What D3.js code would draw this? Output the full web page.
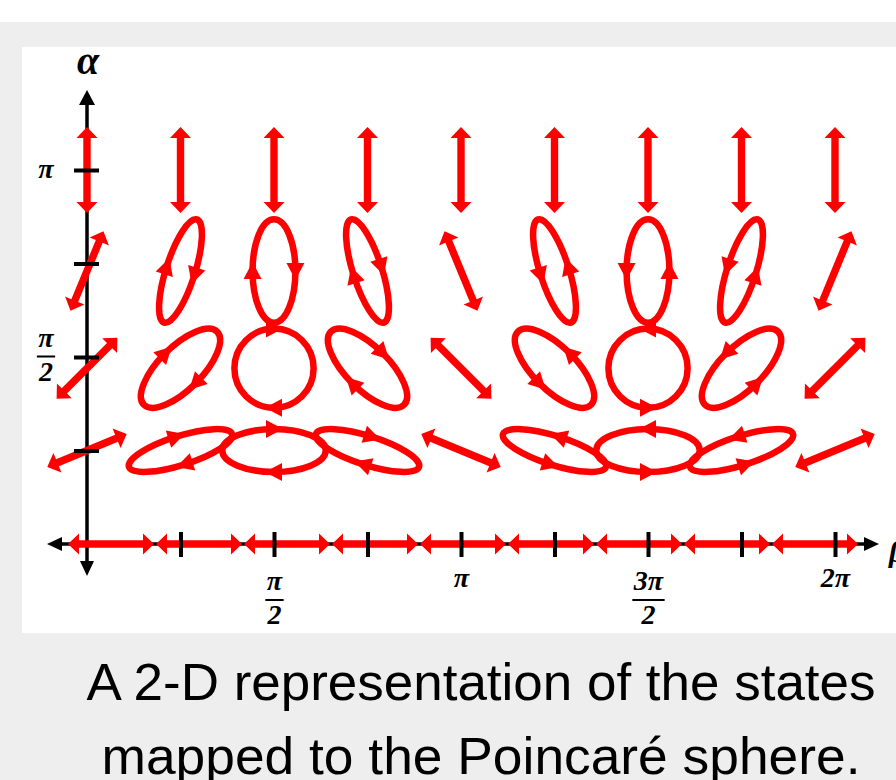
<!DOCTYPE html>
<html lang="en">
<head>
    <meta charset="UTF-8">
    <title>Poincaré states</title>
    <script src="https://cdn.jsdelivr.net/npm/d3@7"></script>
    <style>
        body { margin: 0; background: #fff; }
        svg { display: block; }
        .math { font-family: "Liberation Serif", "DejaVu Serif", serif; font-weight: bold; font-style: italic; }
        .caption { font-family: "Liberation Sans", Arial, sans-serif; }
    </style>
</head>
<body>
<div id="chart-space"></div>
<script>
    // beta across, alpha up, both in units of pi
    var betaSteps = [0, 0.25, 0.5, 0.75, 1, 1.25, 1.5, 1.75, 2];
    var alphaStates = [0, 0.25, 0.5, 0.75, 1];
    // where each alpha row is drawn (the rows sit a little off the ticks)
    var alphaRowAt = [0, 0.25, 0.47, 0.73, 1];

    var xTickValues = [0.25, 0.5, 0.75, 1, 1.25, 1.5, 1.75, 2];
    var xTickLabels = ["", "π/2", "", "π", "", "3π/2", "", "2π"];
    var yTickValues = [0.25, 0.5, 0.75, 1];
    var yTickLabels = ["", "π/2", "", "π"];

    var captionLines = ["A 2-D representation of the states", "mapped to the Poincaré sphere."];

    var width = 896, height = 780;
    var red = "#ff0000";
    var R = 56;       // ellipse size
    var halfLen = 43; // half length of linear arrows

    var svg = d3.select("#chart-space").append("svg")
        .attr("width", width).attr("height", height);

    // backdrop
    svg.append("rect").attr("x", 0).attr("y", 22).attr("width", width).attr("height", height - 22).attr("fill", "#eeeeee");
    svg.append("rect").attr("x", 22).attr("y", 47).attr("width", width - 22).attr("height", 586).attr("fill", "#fff");

    var x = d3.scaleLinear().domain([0, 2]).range([87, 835]);
    var y = d3.scaleLinear().domain([0, 1]).range([544, 170]);
    // the horizontal arrows along the beta axis are laid end to end
    var xRowZero = d3.scalePoint().domain(betaSteps).range([111, 815]);

    // axis lines with arrow tips
    var ax = x(0), ay = y(0);
    svg.append("line").attr("x1", ax).attr("x2", ax).attr("y1", 100).attr("y2", 566)
        .attr("stroke", "#000").attr("stroke-width", 3.5);
    svg.append("line").attr("x1", 56).attr("x2", 870).attr("y1", ay).attr("y2", ay)
        .attr("stroke", "#000").attr("stroke-width", 3.5);
    var tips = [
        [[ax, 90], [ax - 8, 105], [ax + 8, 105]],
        [[ax, 576], [ax - 7, 561], [ax + 7, 561]],
        [[47, ay], [62, ay - 7], [62, ay + 7]],
        [[879, ay], [864, ay - 7], [864, ay + 7]]
    ];
    svg.selectAll(".tip").data(tips).join("path")
        .attr("class", "tip")
        .attr("d", function(d) { return "M" + d.join("L") + "Z"; })
        .attr("fill", "#000");

    function clean(v) { return Math.abs(v) < 1e-9 ? 0 : v; }

    // polarisation ellipse of the state (alpha, beta)
    function stateShape(aPi, bPi) {
        var a = aPi * Math.PI, b = bPi * Math.PI;
        var s1 = clean(Math.cos(a));
        var s2 = clean(Math.sin(a) * Math.cos(b));
        var s3 = clean(Math.sin(a) * Math.sin(b));
        return { psi: 0.5 * Math.atan2(s2, s1), chi: 0.5 * Math.asin(s3), s3: s3 };
    }

    function doubleArrow(L) {
        var hl = 11, hw = 10.5, sw = 3.7;
        var p = [[-L, 0], [-L + hl, -hw], [-L + hl, -sw], [L - hl, -sw], [L - hl, -hw], [L, 0],
                 [L - hl, hw], [L - hl, sw], [-L + hl, sw], [-L + hl, hw]];
        return "M" + p.join("L") + "Z";
    }

    function headAt(y0, dir) {
        var p = [[dir * 9, y0], [-dir * 8, y0 - 9], [-dir * 8, y0 + 9]];
        return "M" + p.join("L") + "Z";
    }

    var marks = [];
    alphaStates.forEach(function(a, i) {
        betaSteps.forEach(function(b) {
            marks.push({ alpha: a, beta: b, row: alphaRowAt[i] });
        });
    });

    var markG = svg.append("g");
    marks.forEach(function(m) {
        var s = stateShape(m.alpha, m.beta);
        var cx = m.alpha === 0 ? xRowZero(m.beta) : x(m.beta);
        var cy = y(m.row);
        var g = markG.append("g")
            .attr("transform", "translate(" + cx + "," + cy + ") rotate(" + (-s.psi * 180 / Math.PI) + ")");
        if (s.s3 === 0) {
            g.append("path").attr("d", doubleArrow(halfLen)).attr("fill", red);
        } else {
            var rx = R * Math.cos(s.chi), ry = R * Math.abs(Math.sin(s.chi));
            var dir = s.s3 > 0 ? 1 : -1;
            g.append("ellipse").attr("rx", rx).attr("ry", ry)
                .attr("fill", "none").attr("stroke", red).attr("stroke-width", 6.5);
            g.append("path").attr("d", headAt(-ry, dir)).attr("fill", red);
            g.append("path").attr("d", headAt(ry, -dir)).attr("fill", red);
        }
    });

    // math labels, "a/b" is set as a stacked fraction
    function mathLabel(g, label, cx, baseY, barY) {
        if (!label) return;
        var parts = label.split("/");
        if (parts.length === 1) {
            g.append("text").attr("class", "math").attr("x", cx).attr("y", baseY)
                .attr("text-anchor", "middle").attr("font-size", 28).attr("fill", "#000").text(label);
            return;
        }
        var num = g.append("text").attr("class", "math").attr("x", cx).attr("y", barY - 10)
            .attr("text-anchor", "middle").attr("font-size", 28).attr("fill", "#000").text(parts[0]);
        var w = num.node().getComputedTextLength() + 3;
        g.append("line").attr("x1", cx - w / 2).attr("x2", cx + w / 2).attr("y1", barY).attr("y2", barY)
            .attr("stroke", "#000").attr("stroke-width", 2);
        g.append("text").attr("class", "math").attr("x", cx).attr("y", barY + 24)
            .attr("text-anchor", "middle").attr("font-size", 28).attr("fill", "#000").text(parts[1]);
    }

    // ticks sit over the red marks
    var xAxis = svg.append("g").attr("transform", "translate(0," + ay + ")")
        .call(d3.axisBottom(x).tickValues(xTickValues).tickSize(0).tickFormat(""));
    xAxis.select(".domain").remove();
    xAxis.selectAll(".tick text").remove();
    xAxis.selectAll(".tick line").attr("y1", -12).attr("y2", 13).attr("stroke", "#000").attr("stroke-width", 4);
    xAxis.selectAll(".tick").each(function(d, i) {
        mathLabel(d3.select(this), xTickLabels[i], 0, 43, 56);
    });

    var yAxis = svg.append("g").attr("transform", "translate(" + ax + ",0)")
        .call(d3.axisLeft(y).tickValues(yTickValues).tickSize(0).tickFormat(""));
    yAxis.select(".domain").remove();
    yAxis.selectAll(".tick text").remove();
    yAxis.selectAll(".tick line").attr("x1", -13).attr("x2", 12).attr("stroke", "#000").attr("stroke-width", 4);
    yAxis.selectAll(".tick").each(function(d, i) {
        mathLabel(d3.select(this), yTickLabels[i], -41, 7, -1);
    });

    // axis names
    svg.append("text").attr("class", "math").attr("x", 88).attr("y", 74)
        .attr("text-anchor", "middle").attr("font-size", 40).text("α");
    svg.append("text").attr("class", "math").attr("x", 889).attr("y", 562)
        .attr("font-size", 30).text("β");

    // caption
    var capLen = [789, 759];
    svg.selectAll(".caption").data(captionLines).join("text")
        .attr("class", "caption")
        .attr("x", 481)
        .attr("y", function(d, i) { return 700 + i * 74; })
        .attr("text-anchor", "middle")
        .attr("font-size", 52)
        .attr("fill", "#000")
        .attr("textLength", function(d, i) { return capLen[i]; })
        .attr("lengthAdjust", "spacingAndGlyphs")
        .text(function(d) { return d; });
</script>
</body>
</html>
